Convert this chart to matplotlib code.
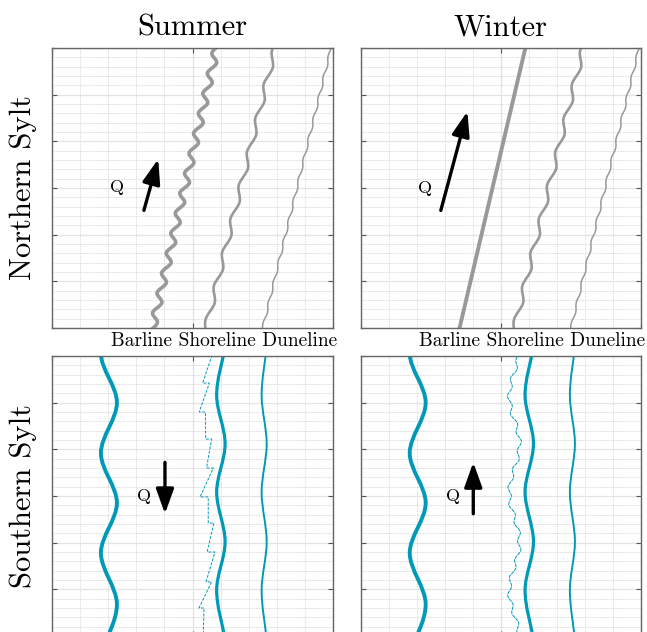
import numpy as np
import matplotlib
matplotlib.use('Agg')
import matplotlib.pyplot as plt
from matplotlib.path import Path
from matplotlib.patches import PathPatch

plt.rcParams['font.family'] = ['cmr10', 'DejaVu Serif']
plt.rcParams['mathtext.fontset'] = 'cm'
plt.rcParams['axes.formatter.use_mathtext'] = True

GRAY = '#999999'
TEAL = '#0099b8'

# ---- data: turning points (y, x), x 0..100, y 0..30 ----
# Northern Sylt
n_bar_summer_y = [-0.5, 0.57, 1.64, 2.71, 3.78, 4.85, 5.92, 6.99, 8.06, 9.13, 10.2, 11.27, 12.34, 13.41,
                  14.48, 15.55, 16.62, 17.69, 18.76, 19.83, 20.9, 21.97, 23.04, 24.11, 25.18, 26.25,
                  27.32, 28.39, 29.46, 30.53]
n_bar_summer_x = [34.2, 37.5, 35.8, 39.1, 37.4, 40.7, 39.0, 42.4, 40.7, 44.0, 42.3, 45.6, 43.9, 47.2,
                  45.5, 48.9, 47.2, 50.5, 48.8, 52.1, 50.4, 53.8, 52.1, 55.4, 53.7, 57.0, 55.3, 58.6,
                  56.9, 60.3]
n_bar_winter_y = [0, 30]
n_bar_winter_x = [35.2, 58.7]
n_shore_y = [-0.9, 0.9, 2.7, 4.5, 6.3, 8.1, 9.9, 11.7, 13.5, 15.3, 17.1, 18.9, 20.7, 22.5, 24.3,
             26.1, 27.9, 29.7, 31.5]
n_shore_x = [54.96, 54.64, 57.91, 57.59, 60.87, 60.54, 63.82, 63.49, 66.77, 66.45, 69.72, 69.40,
             72.67, 72.35, 75.63, 75.30, 78.58, 78.25, 81.53]
n_dune_y = [-0.55, 0.55, 1.65, 2.75, 3.85, 4.95, 6.05, 7.15, 8.25, 9.35, 10.45, 11.55, 12.65, 13.75,
            14.85, 15.95, 17.05, 18.15, 19.25, 20.35, 21.45, 22.55, 23.65, 24.75, 25.85, 26.95,
            28.05, 29.15, 30.25]
n_dune_x = [74.90, 75.10, 76.69, 76.88, 78.47, 78.66, 80.25, 80.44, 82.03, 82.22, 83.81, 84.01,
            85.60, 85.79, 87.38, 87.57, 89.16, 89.35, 90.94, 91.13, 92.72, 92.92, 94.51, 94.70,
            96.29, 96.48, 98.07, 98.26, 99.85]

# Southern Sylt
s_bar_y = [-1.9, 3.4, 8.9, 14.25, 19.6, 25.0, 30.3, 35.6]
s_bar_x = [17.4, 23.1, 17.4, 23.1, 17.4, 23.1, 17.4, 23.1]
s_shore_y = [-0.4, 4.9, 10.1, 15.4, 20.6, 25.8, 31.0]
s_shore_x = [61.6, 58.6, 61.6, 58.6, 61.6, 58.6, 61.6]
s_dune_y = [-0.4, 4.9, 10.1, 15.4, 20.6, 25.8, 31.0]
s_dune_x = [76.4, 74.6, 76.4, 74.6, 76.4, 74.6, 76.4]
s_model_summer_y = [31.0, 27.1, 27.1, 24.0, 24.0, 21.1, 21.1, 18.0, 18.0, 14.9, 14.9, 12.1, 12.1,
                    9.0, 9.0, 5.8, 5.8, 3.0, 3.0, -0.5]
s_model_summer_x = [58.0, 53.6, 56.0, 52.4, 54.6, 54.7, 56.8, 55.0, 57.4, 52.7, 55.6, 55.6, 57.6,
                    55.2, 58.0, 54.8, 56.8, 52.3, 54.1, 53.8]
s_model_winter_y = [-0.5, 0.47, 1.44, 2.41, 3.38, 4.35, 5.32, 6.29, 7.26, 8.23, 9.2, 10.17, 11.14,
                    12.11, 13.08, 14.05, 15.02, 15.99, 16.96, 17.93, 18.9, 19.87, 20.84, 21.81,
                    22.78, 23.75, 24.72, 25.69, 26.66, 27.63, 28.6, 29.57, 30.54]
s_model_winter_x = [57.3, 55.7, 56.3, 53.9, 54.3, 52.4, 53.8, 53.0, 55.3, 54.9, 57.1, 55.9, 56.9,
                    54.7, 55.1, 52.8, 53.7, 52.5, 54.5, 54.1, 56.5, 55.8, 57.3, 55.4, 55.9, 53.4,
                    54.0, 52.3, 54.0, 53.4, 55.8, 55.3, 57.2]

# transport arrows: (tail x, tail y, tip x, tip y), label position
arrows = {'NS': (32.7, 12.6, 37.8, 18.1), 'NW': (28.5, 12.6, 38.0, 23.2),
          'SS': (40.2, 18.6, 40.2, 13.1), 'SW': (40.1, 13.1, 40.1, 18.6)}
q_pos = {'NS': (23.0, 15.1), 'NW': (22.9, 15.0), 'SS': (32.8, 15.0), 'SW': (32.8, 15.0)}


def smooth_line(ax, ys, xs, dashed=False, **kw):
    # smooth cubic curve through the read points (Catmull-Rom tangents)
    pts = np.column_stack([xs, ys]).astype(float)
    n = len(pts)
    tang = np.zeros_like(pts)
    tang[1:-1] = (pts[2:] - pts[:-2]) / 2
    tang[0] = pts[1] - pts[0]
    tang[-1] = pts[-1] - pts[-2]
    verts = [tuple(pts[0])]
    codes = [Path.MOVETO]
    for i in range(1, n):
        verts += [tuple(pts[i - 1] + tang[i - 1] / 3), tuple(pts[i] - tang[i] / 3), tuple(pts[i])]
        codes += [Path.CURVE4] * 3
    p = PathPatch(Path(verts, codes), fill=False, capstyle='round', joinstyle='round', **kw)
    if dashed:
        p.set_linestyle((0, (3, 1.5)))
    ax.add_patch(p)


def style(ax):
    ax.set_xlim(0, 100)
    ax.set_ylim(0, 30)
    ax.set_xticks([0, 50, 100])
    ax.set_xticks(np.arange(0, 101, 10), minor=True)
    ax.set_yticks(np.arange(0, 31, 5))
    ax.set_yticks(np.arange(0, 31, 1), minor=True)
    ax.grid(which='major', color='#e3e3e3', lw=0.9, ls='-')
    ax.grid(which='minor', color='#d0d0d0', lw=0.6, ls=(0, (1, 1)))
    ax.set_axisbelow(True)
    ax.tick_params(which='both', direction='in', top=True, right=True,
                   labelbottom=False, labelleft=False, color='#555555')
    ax.tick_params(which='major', length=3.5, width=0.8)
    ax.tick_params(which='minor', length=0)
    for s in ax.spines.values():
        s.set_color('#666666')
        s.set_linewidth(1.0)


def arrow(ax, key):
    x0, y0, x1, y1 = arrows[key]
    ax.annotate('', xy=(x1, y1), xytext=(x0, y0),
                arrowprops=dict(arrowstyle='-|>,head_length=0.75,head_width=0.27',
                                lw=2.4, color='k', shrinkA=0, shrinkB=0, mutation_scale=20))
    ax.text(*q_pos[key], 'Q', fontsize=13, ha='center', va='center')


fig = plt.figure(figsize=(6.47, 6.32), dpi=100)
W, H = 647, 632
ax_ns = fig.add_axes([52 / W, (H - 328) / H, 281 / W, 280 / H])
ax_nw = fig.add_axes([361 / W, (H - 328) / H, 280 / W, 280 / H])
ax_ss = fig.add_axes([52 / W, (H - 636) / H, 281 / W, 280 / H])
ax_sw = fig.add_axes([361 / W, (H - 636) / H, 280 / W, 280 / H])

for ax in (ax_ns, ax_nw, ax_ss, ax_sw):
    style(ax)

# Northern Sylt
smooth_line(ax_ns, n_bar_summer_y, n_bar_summer_x, ec=GRAY, lw=2.6)
ax_nw.plot(n_bar_winter_x, n_bar_winter_y, color=GRAY, lw=2.8)
for ax in (ax_ns, ax_nw):
    smooth_line(ax, n_shore_y, n_shore_x, ec=GRAY, lw=1.9)
    smooth_line(ax, n_dune_y, n_dune_x, ec=GRAY, lw=1.1)

# Southern Sylt
for ax in (ax_ss, ax_sw):
    smooth_line(ax, s_bar_y, s_bar_x, ec=TEAL, lw=2.8)
    smooth_line(ax, s_shore_y, s_shore_x, ec=TEAL, lw=2.3)
    smooth_line(ax, s_dune_y, s_dune_x, ec=TEAL, lw=1.4)
ax_ss.plot(s_model_summer_x, s_model_summer_y, color=TEAL, lw=0.7, ls=(0, (3, 1.5)))
smooth_line(ax_sw, s_model_winter_y, s_model_winter_x, dashed=True, ec=TEAL, lw=0.7)

for key, ax in zip(['NS', 'NW', 'SS', 'SW'], [ax_ns, ax_nw, ax_ss, ax_sw]):
    arrow(ax, key)

ax_ns.set_title('Summer', fontsize=22, pad=9)
ax_nw.set_title('Winter', fontsize=22, pad=9)
fig.text(23 / W, (H - 188) / H, 'Northern Sylt', fontsize=22, rotation=90, ha='center', va='center')
fig.text(23 / W, (H - 496) / H, 'Southern Sylt', fontsize=22, rotation=90, ha='center', va='center')
fig.text((192.5 + 31.5) / W, (H - 346) / H, 'Barline Shoreline Duneline', fontsize=14,
         ha='center', va='baseline')
fig.text((501 + 31.5) / W, (H - 346) / H, 'Barline Shoreline Duneline', fontsize=14,
         ha='center', va='baseline')

fig.savefig('out.png', dpi=100)
